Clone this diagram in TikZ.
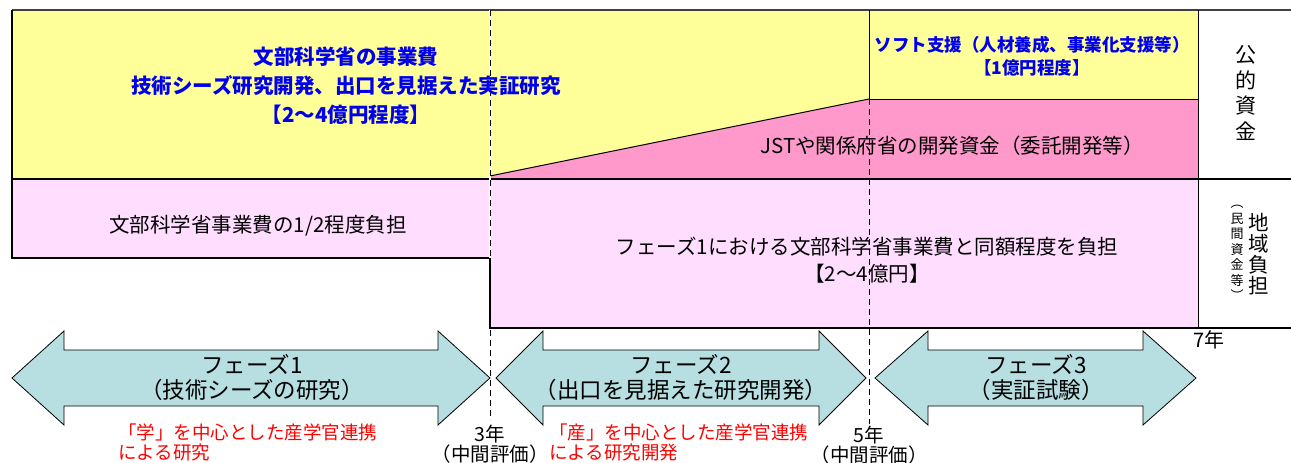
\documentclass[tikz,border=0pt]{standalone}
\usepackage{fontspec}
\setmainfont{Noto Sans CJK JP}
\definecolor{ylw}{RGB}{255,255,153}
\definecolor{hpink}{RGB}{255,153,204}
\definecolor{lpink}{RGB}{255,221,255}
\definecolor{arrowc}{RGB}{183,222,225}
\definecolor{bluet}{RGB}{0,0,235}
\definecolor{redt}{RGB}{255,0,0}
\newcommand\dbarrow[5]{%
  \filldraw[arrowbox] (#1,#3) -- (#1+#4,#3-47) -- (#1+#4,#3-28) -- (#2-#4,#3-28) -- (#2-#4,#3-47) -- (#2,#3)
   -- (#2-#4,#3+47) -- (#2-#4,#3+28) -- (#1+#4,#3+28) -- (#1+#4,#3+47) -- cycle;}
\begin{document}
\begin{tikzpicture}[x=1pt,y=-1pt,
  frame/.style={line width=1.2pt,draw=black},
  thin/.style={line width=1pt,draw=black},
  dashline/.style={line width=0.9pt,dashed,dash pattern=on 6pt off 4pt},
  arrowbox/.style={fill=arrowc,draw=black,line width=0.8pt},
  lbl/.style={font=\fontsize{20.5}{25}\selectfont,align=center,inner sep=0pt},
  bluelbl/.style={font=\fontsize{20.5}{29}\selectfont\bfseries,text=bluet,align=center,inner sep=0pt},
  redlbl/.style={font=\fontsize{18.5}{20}\selectfont,text=redt,align=left,inner sep=0pt,anchor=west},
  vert/.style={font=\fontsize{21}{25}\selectfont,align=center,inner sep=0pt},
  vsmall/.style={font=\fontsize{13}{15.5}\selectfont,align=center,inner sep=0pt}]
\useasboundingbox (0,0) rectangle (1291,463);
% fills
\fill[ylw] (12,10) rectangle (1198,179);
\fill[hpink] (490,176) -- (869,99) -- (1198,99) -- (1198,179) -- (490,179) -- cycle;
\fill[lpink] (12,179) rectangle (490,258);
\fill[lpink] (490,179) rectangle (1198,328);
% lines
\draw[frame,draw=black!75] (12,10) -- (1291,10);
\draw[frame] (12,10) -- (12,258) -- (490,258);
\draw[frame] (12,179) -- (1291,179);
\draw[frame] (490,258) -- (490,328) -- (1291,328);
\draw[thin] (1198,10) -- (1198,328);
\draw[thin] (869,10) -- (869,99) -- (1198,99);
\draw[thin] (490,176) -- (869,99);
\draw[line width=1.3pt,white] (490,10) -- (490,258);
\draw[dashline] (490,10) -- (490,420);
\draw[dashline] (869,99) -- (869,424);
% top texts
\node[bluelbl] (mext) at (346,86) {文部科学省の事業費\\技術シーズ研究開発、出口を見据えた実証研究\\【2～4億円程度】};
\node[bluelbl,font=\fontsize{17.5}{23}\selectfont\bfseries] (soft) at (1032,56) {ソフト支援（人材養成、事業化支援等）\\【1億円程度】};
\node[lbl] (jst) at (952,146) {JSTや関係府省の開発資金（委託開発等）};
\node[lbl] (half) at (258,226) {文部科学省事業費の1/2程度負担};
\node[lbl,font=\fontsize{20.5}{27}\selectfont] (same) at (867,260) {フェーズ1における文部科学省事業費と同額程度を負担\\【2～4億円】};
\node[vert,font=\fontsize{21}{25.5}\selectfont] (public) at (1246,93) {公\\的\\資\\金};
\node[vert,font=\fontsize{20.5}{21}\selectfont] (local) at (1259,254) {地\\域\\負\\担};
\node[vsmall] (priv) at (1237,253) {︵\\民\\間\\資\\金\\等\\︶};
\node[lbl,font=\fontsize{20}{22}\selectfont] (y7) at (1209,340) {7年};
% arrows
\dbarrow{12}{490}{378}{52}{a1}
\dbarrow{496}{866}{378}{47}{a2}
\dbarrow{875}{1196}{378}{53}{a3}
\node[lbl,font=\fontsize{22.5}{25}\selectfont] (p1) at (252,378) {フェーズ1\\（技術シーズの研究）};
\node[lbl,font=\fontsize{22.5}{25}\selectfont] (p2) at (681,378) {フェーズ2\\（出口を見据えた研究開発）};
\node[lbl,font=\fontsize{22.5}{25}\selectfont] (p3) at (1036,378) {フェーズ3\\（実証試験）};
\node[redlbl] (r1) at (118,442) {「学」を中心とした産学官連携\\による研究};
\node[redlbl] (r2) at (549,442) {「産」を中心とした産学官連携\\による研究開発};
\node[lbl,font=\fontsize{19.5}{20}\selectfont] (m3) at (490,444) {3年\\（中間評価）};
\node[lbl,font=\fontsize{19.5}{20}\selectfont] (m5) at (869,445) {5年\\（中間評価）};
\end{tikzpicture}
\end{document}
